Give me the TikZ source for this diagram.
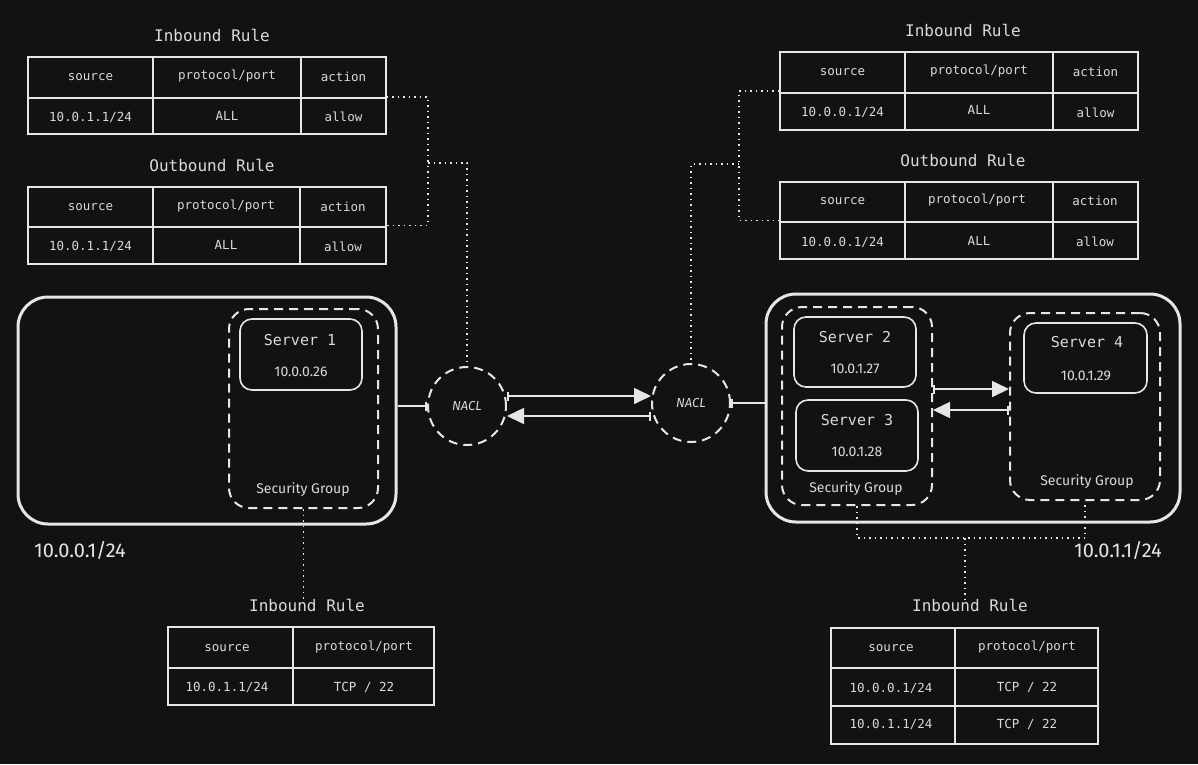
\documentclass[tikz,border=0pt]{standalone}
\usepackage{fontspec}
\setmonofont{DejaVu Sans Mono}
\newfontfamily\hand{Fira Sans}
\usetikzlibrary{arrows.meta,positioning}
\definecolor{bg}{HTML}{121212}
\definecolor{ln}{HTML}{E6E6E6}
\definecolor{tx}{HTML}{DADADA}
\tikzset{
  tbl/.style={draw=ln, line width=1.1pt, inner sep=0pt},
  cell/.style={text=tx, font=\ttfamily\fontsize{12.5}{14}\selectfont, inner sep=0pt},
  ttl/.style={text=tx, font=\ttfamily\fontsize{16}{18}\selectfont, inner sep=0pt},
  vpc/.style={draw=ln, line width=3pt, rounded corners=30pt, inner sep=0pt},
  sg/.style={draw=ln, line width=2pt, dash pattern=on 9pt off 6pt, rounded corners=20pt, inner sep=0pt},
  srv/.style={draw=ln, line width=1.6pt, rounded corners=12pt, inner sep=0pt},
  srvname/.style={text=tx, font=\ttfamily\fontsize{15}{17}\selectfont, inner sep=0pt},
  hw/.style={text=tx, font=\hand\fontsize{14}{16}\selectfont, inner sep=0pt},
  bigip/.style={text=ln, font=\hand\fontsize{20}{22}\selectfont, inner sep=0pt},
  nacl/.style={circle, draw=ln, line width=2pt, dash pattern=on 9pt off 6pt, minimum size=78pt, inner sep=0pt, text=tx, font=\hand\itshape\fontsize{13}{15}\selectfont},
  dot/.style={draw=ln, line width=1.3pt, dash pattern=on 1.5pt off 4pt},
  conn/.style={draw=ln, line width=1.6pt},
  arr/.style={draw=ln, line width=1.6pt, {Bar[width=9pt]}-{Triangle[length=17pt,width=16pt]}},
}
\begin{document}
\begin{tikzpicture}[x=1pt,y=-1pt]
\fill[bg] (0,0) rectangle (1198,764);
\useasboundingbox (0,0) rectangle (1198,764);

% ---------- top-left tables ----------
\node[ttl] (ttlL1) at (212,35) {Inbound Rule};
\node[tbl, minimum width=358pt, minimum height=77pt] (tL1) at (207,95.5) {};
\draw[ln, line width=1.1pt] (28,98) -- (386,98) (153,57) -- (153,134) (301,57) -- (301,134);
\node[cell] at (90.5,77) {source};
\node[cell] at (227,76) {protocol/port};
\node[cell] at (343.5,77) {action};
\node[cell] at (90.5,117) {10.0.1.1/24};
\node[cell] at (227,116) {ALL};
\node[cell] at (343.5,117) {allow};

\node[ttl] (ttlL2) at (212,165) {Outbound Rule};
\node[tbl, minimum width=358pt, minimum height=77pt] (tL2) at (207,225.5) {};
\draw[ln, line width=1.1pt] (28,227) -- (386,227) (153,187) -- (153,264) (300,187) -- (300,264);
\node[cell] at (90.5,207) {source};
\node[cell] at (226,206) {protocol/port};
\node[cell] at (343,207) {action};
\node[cell] at (90.5,246) {10.0.1.1/24};
\node[cell] at (226,245) {ALL};
\node[cell] at (343,247) {allow};

% ---------- top-right tables ----------
\node[ttl] (ttlR1) at (963,30) {Inbound Rule};
\node[tbl, minimum width=358pt, minimum height=78pt] (tR1) at (959,91) {};
\draw[ln, line width=1.1pt] (780,93) -- (1138,93) (905,52) -- (905,130) (1053,52) -- (1053,130);
\node[cell] at (842.5,72) {source};
\node[cell] at (979,71) {protocol/port};
\node[cell] at (1095.5,72) {action};
\node[cell] at (842.5,112) {10.0.0.1/24};
\node[cell] at (979,110) {ALL};
\node[cell] at (1095.5,113) {allow};

\node[ttl] (ttlR2) at (963,160) {Outbound Rule};
\node[tbl, minimum width=358pt, minimum height=77pt] (tR2) at (959,220.5) {};
\draw[ln, line width=1.1pt] (780,222) -- (1138,222) (905,182) -- (905,259) (1053,182) -- (1053,259);
\node[cell] at (842.5,201) {source};
\node[cell] at (977,200) {protocol/port};
\node[cell] at (1095,201) {action};
\node[cell] at (842.5,242) {10.0.0.1/24};
\node[cell] at (979,241) {ALL};
\node[cell] at (1095,242) {allow};

% ---------- left VPC ----------
\node[vpc, minimum width=378pt, minimum height=227pt] (vpcL) at (207,410.5) {};
\node[sg, minimum width=149pt, minimum height=199pt] (sgL) at (303.5,408.5) {};
\node[srv, minimum width=122pt, minimum height=71pt] (s1) at (301,354.5) {};
\node[srvname] at (300,340) {Server 1};
\node[hw] at (301,372) {10.0.0.26};
\node[hw] at (303,490) {Security Group};
\node[bigip] (ipL) at (80,550) {10.0.0.1/24};

% ---------- NACLs ----------
\node[nacl] (naclL) at (467,406) {NACL};
\node[nacl] (naclR) at (691,403) {NACL};

% ---------- right VPC ----------
\node[vpc, minimum width=414pt, minimum height=228pt] (vpcR) at (973,408) {};
\node[sg, minimum width=150pt, minimum height=198pt] (sg2) at (857,406) {};
\node[sg, minimum width=150pt, minimum height=187pt] (sg3) at (1085,406.5) {};
\node[srv, minimum width=122pt, minimum height=70pt] (s2) at (855,352) {};
\node[srvname] at (855,337) {Server 2};
\node[hw] at (855,369) {10.0.1.27};
\node[srv, minimum width=122pt, minimum height=71pt] (s3) at (857,435.5) {};
\node[srvname] at (857,420) {Server 3};
\node[hw] at (857,452) {10.0.1.28};
\node[hw] at (856,489) {Security Group};
\node[srv, minimum width=123pt, minimum height=70pt] (s4) at (1085.5,358) {};
\node[srvname] at (1087,342) {Server 4};
\node[hw] at (1086,376) {10.0.1.29};
\node[hw] at (1087,482) {Security Group};
\node[bigip] (ipR) at (1118,550) {10.0.1.1/24};

% ---------- solid connectors ----------
\draw[conn, -{Bar[width=9pt]}] (vpcL.east |- naclL.west) -- (naclL.west);
\draw[conn, {Bar[width=9pt]}-] (naclR.east) -- (vpcR.west |- naclR.east);
\draw[arr] (naclL.east |- 0,396) -- (naclR.west |- 0,396);
\draw[arr] (naclR.west |- 0,416) -- (naclL.east |- 0,416);
\draw[arr] (sg2.east |- 0,389) -- (sg3.west |- 0,389);
\draw[arr] (sg3.west |- 0,410) -- (sg2.east |- 0,410);

% ---------- dotted connectors ----------
\coordinate (jL) at (428,163);
\draw[dot] ([yshift=-1.5pt]tL1.east) -| (jL) |- (tL2.east);
\draw[dot] (jL) -| (naclL.north);
\coordinate (jR) at (739,164);
\draw[dot] (tR1.west) -| (jR) |- (tR2.west);
\draw[dot] (jR) -| (naclR.north);

% ---------- bottom tables ----------
\node[ttl] (ttlBL) at (307,605) {Inbound Rule};
\node[tbl, minimum width=266pt, minimum height=78pt] (tBL) at (301,666) {};
\draw[ln, line width=1.1pt] (168,668) -- (434,668) (293,627) -- (293,705);
\node[cell] at (227,648) {source};
\node[cell] at (364,647) {protocol/port};
\node[cell] at (227,687) {10.0.1.1/24};
\node[cell] at (364,687) {TCP / 22};
\draw[dot] (sgL.south) -- (sgL.south |- ttlBL.north);

\node[ttl] (ttlBR) at (970,605) {Inbound Rule};
\node[tbl, minimum width=267pt, minimum height=116pt] (tBR) at (964.5,686) {};
\draw[ln, line width=1.1pt] (831,668) -- (1098,668) (831,706) -- (1098,706) (955,628) -- (955,744);
\node[cell] at (891,648) {source};
\node[cell] at (1027,647) {protocol/port};
\node[cell] at (891,688) {10.0.0.1/24};
\node[cell] at (1027,687) {TCP / 22};
\node[cell] at (891,724) {10.0.1.1/24};
\node[cell] at (1027,724) {TCP / 22};
\coordinate (jB) at (965,538);
\draw[dot] (sg2.south) |- (jB) -| (sg3.south);
\draw[dot] (jB) -- (jB |- ttlBR.north);
\end{tikzpicture}
\end{document}
